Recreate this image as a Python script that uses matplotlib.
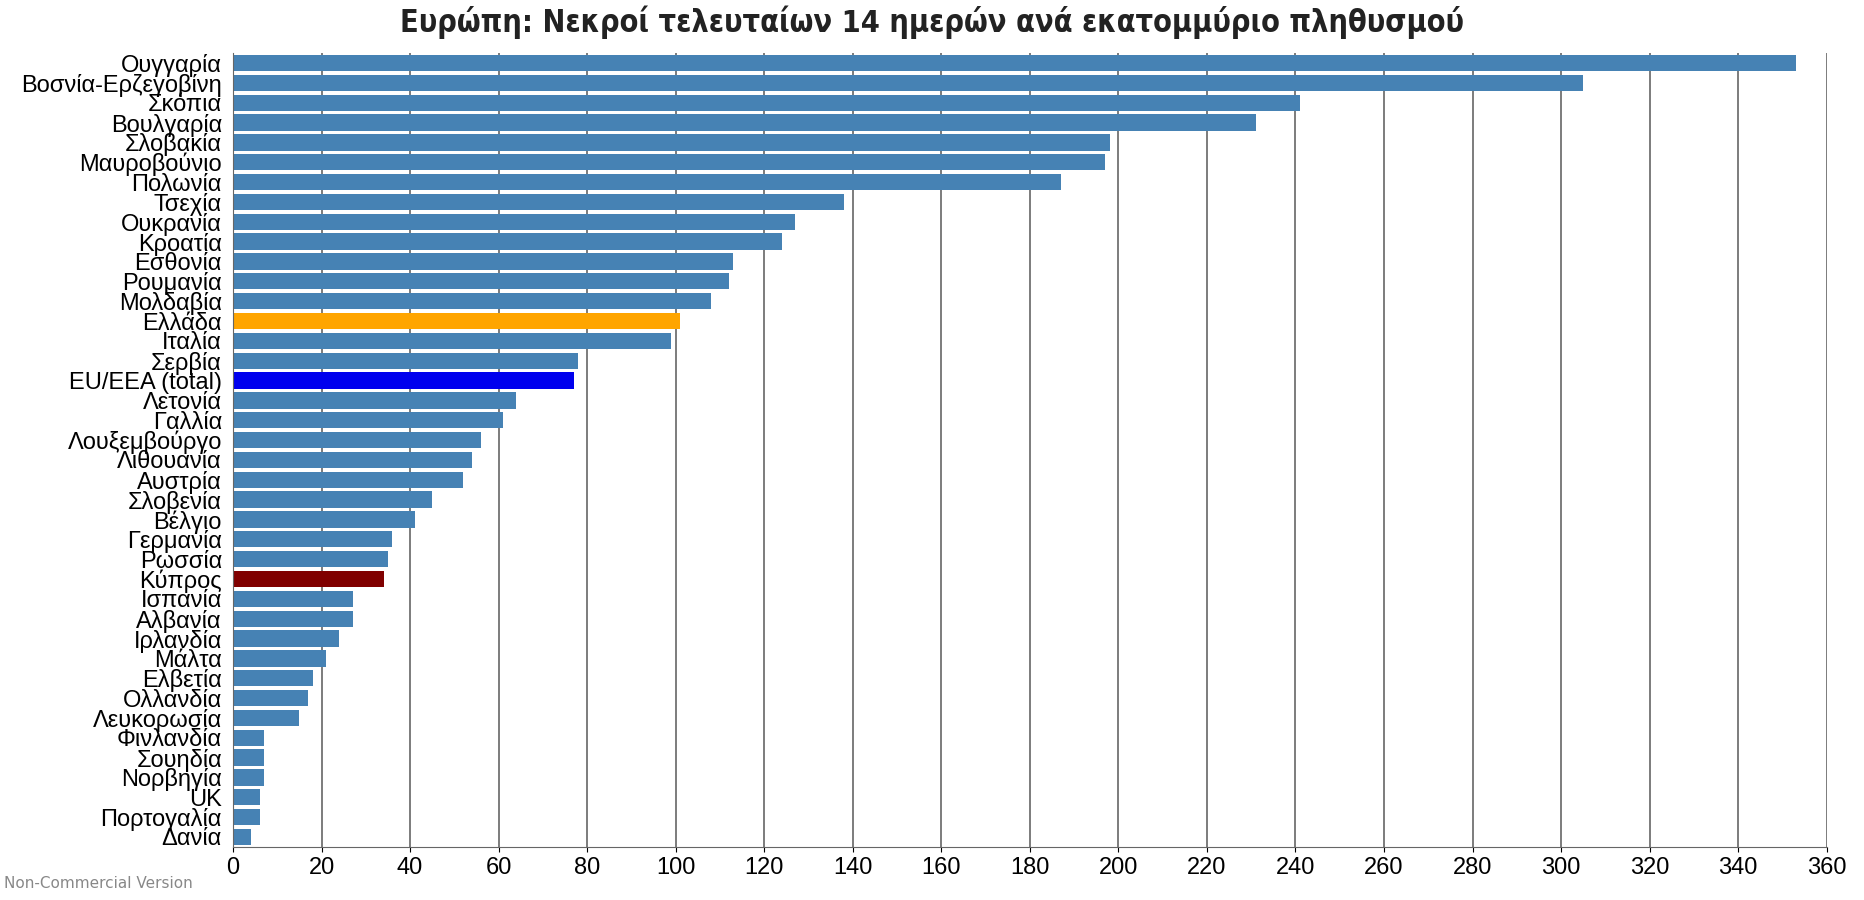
import matplotlib
matplotlib.use("Agg")
import matplotlib.pyplot as plt

countries = ["Ουγγαρία","Βοσνία-Ερζεγοβίνη","Σκόπια","Βουλγαρία","Σλοβακία","Μαυροβούνιο","Πολωνία","Τσεχία","Ουκρανία","Κροατία","Εσθονία","Ρουμανία","Μολδαβία","Ελλάδα","Ιταλία","Σερβία","EU/EEA (total)","Λετονία","Γαλλία","Λουξεμβούργο","Λιθουανία","Αυστρία","Σλοβενία","Βέλγιο","Γερμανία","Ρωσσία","Κύπρος","Ισπανία","Αλβανία","Ιρλανδία","Μάλτα","Ελβετία","Ολλανδία","Λευκορωσία","Φινλανδία","Σουηδία","Νορβηγία","UK","Πορτογαλία","Δανία"]
values = [353,305,241,231,198,197,187,138,127,124,113,112,108,101,99,78,77,64,61,56,54,52,45,41,36,35,34,27,27,24,21,18,17,15,7,7,7,6,6,4]
highlight = {"Ελλάδα":"#FFA500","EU/EEA (total)":"#0000EE","Κύπρος":"#800000"}
ticks = list(range(0,361,20))

fig = plt.figure(figsize=(18.64,9.0), dpi=100)
ax = fig.add_axes([0.125,0.059,0.855,0.882])
colors = [highlight.get(c,"#4682B4") for c in countries]
y = list(range(len(countries)))
ax.set_axisbelow(True)
ax.grid(axis="x", color="#666666", linewidth=1.2)
ax.barh(y, values, height=0.82, color=colors)
ax.set_ylim(len(countries)-0.5, -0.5)
ax.set_xlim(0,360)
ax.set_xticks(ticks)
ax.set_yticks(y)
ax.set_yticklabels(countries, fontsize=17, family="Liberation Sans")
ax.tick_params(axis="x", labelsize=17)
ax.tick_params(axis="y", length=0, pad=8)
for l in ax.get_xticklabels(): l.set_family("Liberation Sans")
for s in ["top","right"]: ax.spines[s].set_visible(False)
ax.spines["left"].set_color("#666666"); ax.spines["bottom"].set_color("#666666")
fig.text(0.5,0.975,"Ευρώπη: Νεκροί τελευταίων 14 ημερών ανά εκατομμύριο πληθυσμού",
         ha="center", va="center", fontsize=22, fontweight="bold",
         family="DejaVu Sans", fontstretch="condensed", color="#222222")
fig.text(0.002,0.018,"Non-Commercial Version", fontsize=11, color="#888888", va="center")
fig.savefig("out.png", dpi=100)
